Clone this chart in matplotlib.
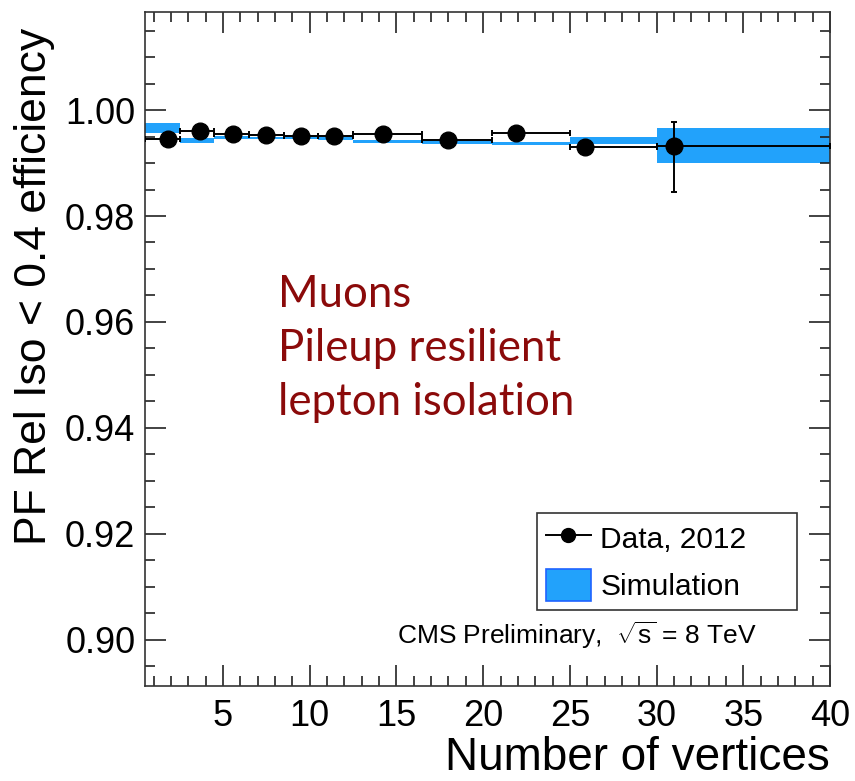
import numpy as np
import matplotlib.pyplot as plt
from matplotlib.lines import Line2D
from matplotlib.patches import Patch
from matplotlib.ticker import MultipleLocator, FormatStrFormatter

plt.rcParams['font.family'] = ['Liberation Sans', 'DejaVu Sans']
plt.rcParams['mathtext.fontset'] = 'custom'
plt.rcParams['mathtext.rm'] = 'Liberation Sans'

# bins in number of vertices
bin_edges = [0.5, 2.5, 4.5, 6.5, 8.5, 10.5, 12.5, 16.5, 20.5, 25, 30, 40]

# data, 2012
data_x = [1.8, 3.7, 5.6, 7.5, 9.5, 11.4, 14.2, 18.0, 21.9, 25.9, 31.0]
data_eff = [0.9945, 0.9960, 0.9954, 0.9953, 0.9951, 0.9951,
            0.9954, 0.9943, 0.9956, 0.9930, 0.9932]
data_err_lo = [0.0004, 0.0003, 0.0003, 0.0003, 0.0003, 0.0003,
               0.0003, 0.0003, 0.0004, 0.0006, 0.0087]
data_err_hi = [0.0004, 0.0003, 0.0003, 0.0003, 0.0003, 0.0003,
               0.0003, 0.0003, 0.0004, 0.0006, 0.0046]

# simulation band
sim_eff = [0.9966, 0.9943, 0.9948, 0.9947, 0.9947, 0.9946,
           0.9940, 0.9938, 0.9937, 0.9942, 0.99325]
sim_err = [0.0010, 0.0005, 0.00025, 0.00025, 0.00025, 0.00025,
           0.0003, 0.0003, 0.0003, 0.0007, 0.0033]

blue = '#22a2fb'
dark_red = '#8b0a0a'

edges = np.array(bin_edges)
x = np.array(data_x)
sim = np.array(sim_eff)
serr = np.array(sim_err)

fig = plt.figure(figsize=(8.55, 7.81), dpi=100)
ax = fig.add_axes([145 / 855, 1 - 686 / 781, 685 / 855, 674 / 781])

ax.bar(edges[:-1], 2 * serr, width=np.diff(edges), bottom=sim - serr,
       align='edge', color=blue, linewidth=0, zorder=1)

ax.errorbar(x, data_eff, xerr=[x - edges[:-1], edges[1:] - x],
            yerr=[data_err_lo, data_err_hi], fmt='o', color='black',
            ms=12, elinewidth=1.4, capsize=2.5, capthick=1.4, zorder=3)

ax.set_xlim(0.5, 40)
ax.set_ylim(0.8913, 1.0185)

ax.set_xticks([5, 10, 15, 20, 25, 30, 35, 40])
ax.xaxis.set_minor_locator(MultipleLocator(1))
ax.set_yticks([0.90, 0.92, 0.94, 0.96, 0.98, 1.00])
ax.yaxis.set_minor_locator(MultipleLocator(0.005))
ax.yaxis.set_major_formatter(FormatStrFormatter('%.2f'))

ax.tick_params(which='both', direction='in', top=True, right=True,
               colors='#222222', labelcolor='black')
ax.tick_params(which='major', length=15, width=1.2, labelsize=26)
ax.tick_params(which='minor', length=7.5, width=1.2)
ax.tick_params(axis='y', pad=7)
ax.tick_params(axis='x', pad=9)
for sp in ax.spines.values():
    sp.set_linewidth(1.2)
    sp.set_color('#333333')

ax.set_xlabel('Number of vertices', fontsize=33, loc='right', labelpad=2)
ax.set_ylabel('PF Rel Iso < 0.4 efficiency', fontsize=32, loc='top')
ax.yaxis.set_label_coords(-0.131, 0.976)

lines = ['Muons', 'Pileup resilient', 'lepton isolation']
for i, line in enumerate(lines):
    ax.text(0.194, 0.563 - i * 54 / 674, line, transform=ax.transAxes,
            fontsize=31.5, color=dark_red, family=['Lato', 'DejaVu Sans'],
            ha='left', va='baseline')

handles = [Line2D([], [], color='black', marker='o', ms=10, lw=1.4),
           Patch(facecolor=blue, edgecolor='#1f63ff', linewidth=1.2)]
leg = ax.legend(handles, ['Data, 2012', 'Simulation'],
                loc='lower left', bbox_to_anchor=(0.572, 0.113, 0.38, 0.145),
                mode='expand', fontsize=21.5, frameon=True, fancybox=False,
                framealpha=1, edgecolor='#333333', borderpad=0.3,
                labelspacing=0.5, handlelength=1.5, handleheight=1.25,
                handletextpad=0.33, borderaxespad=0)
leg.get_frame().set_linewidth(1.2)

ax.text(0.893, 0.0757, r'CMS Preliminary,  $\sqrt{\mathrm{s}}$ = 8 TeV',
        transform=ax.transAxes, fontsize=19, ha='right', va='center')

fig.savefig('out.png', dpi=100)
